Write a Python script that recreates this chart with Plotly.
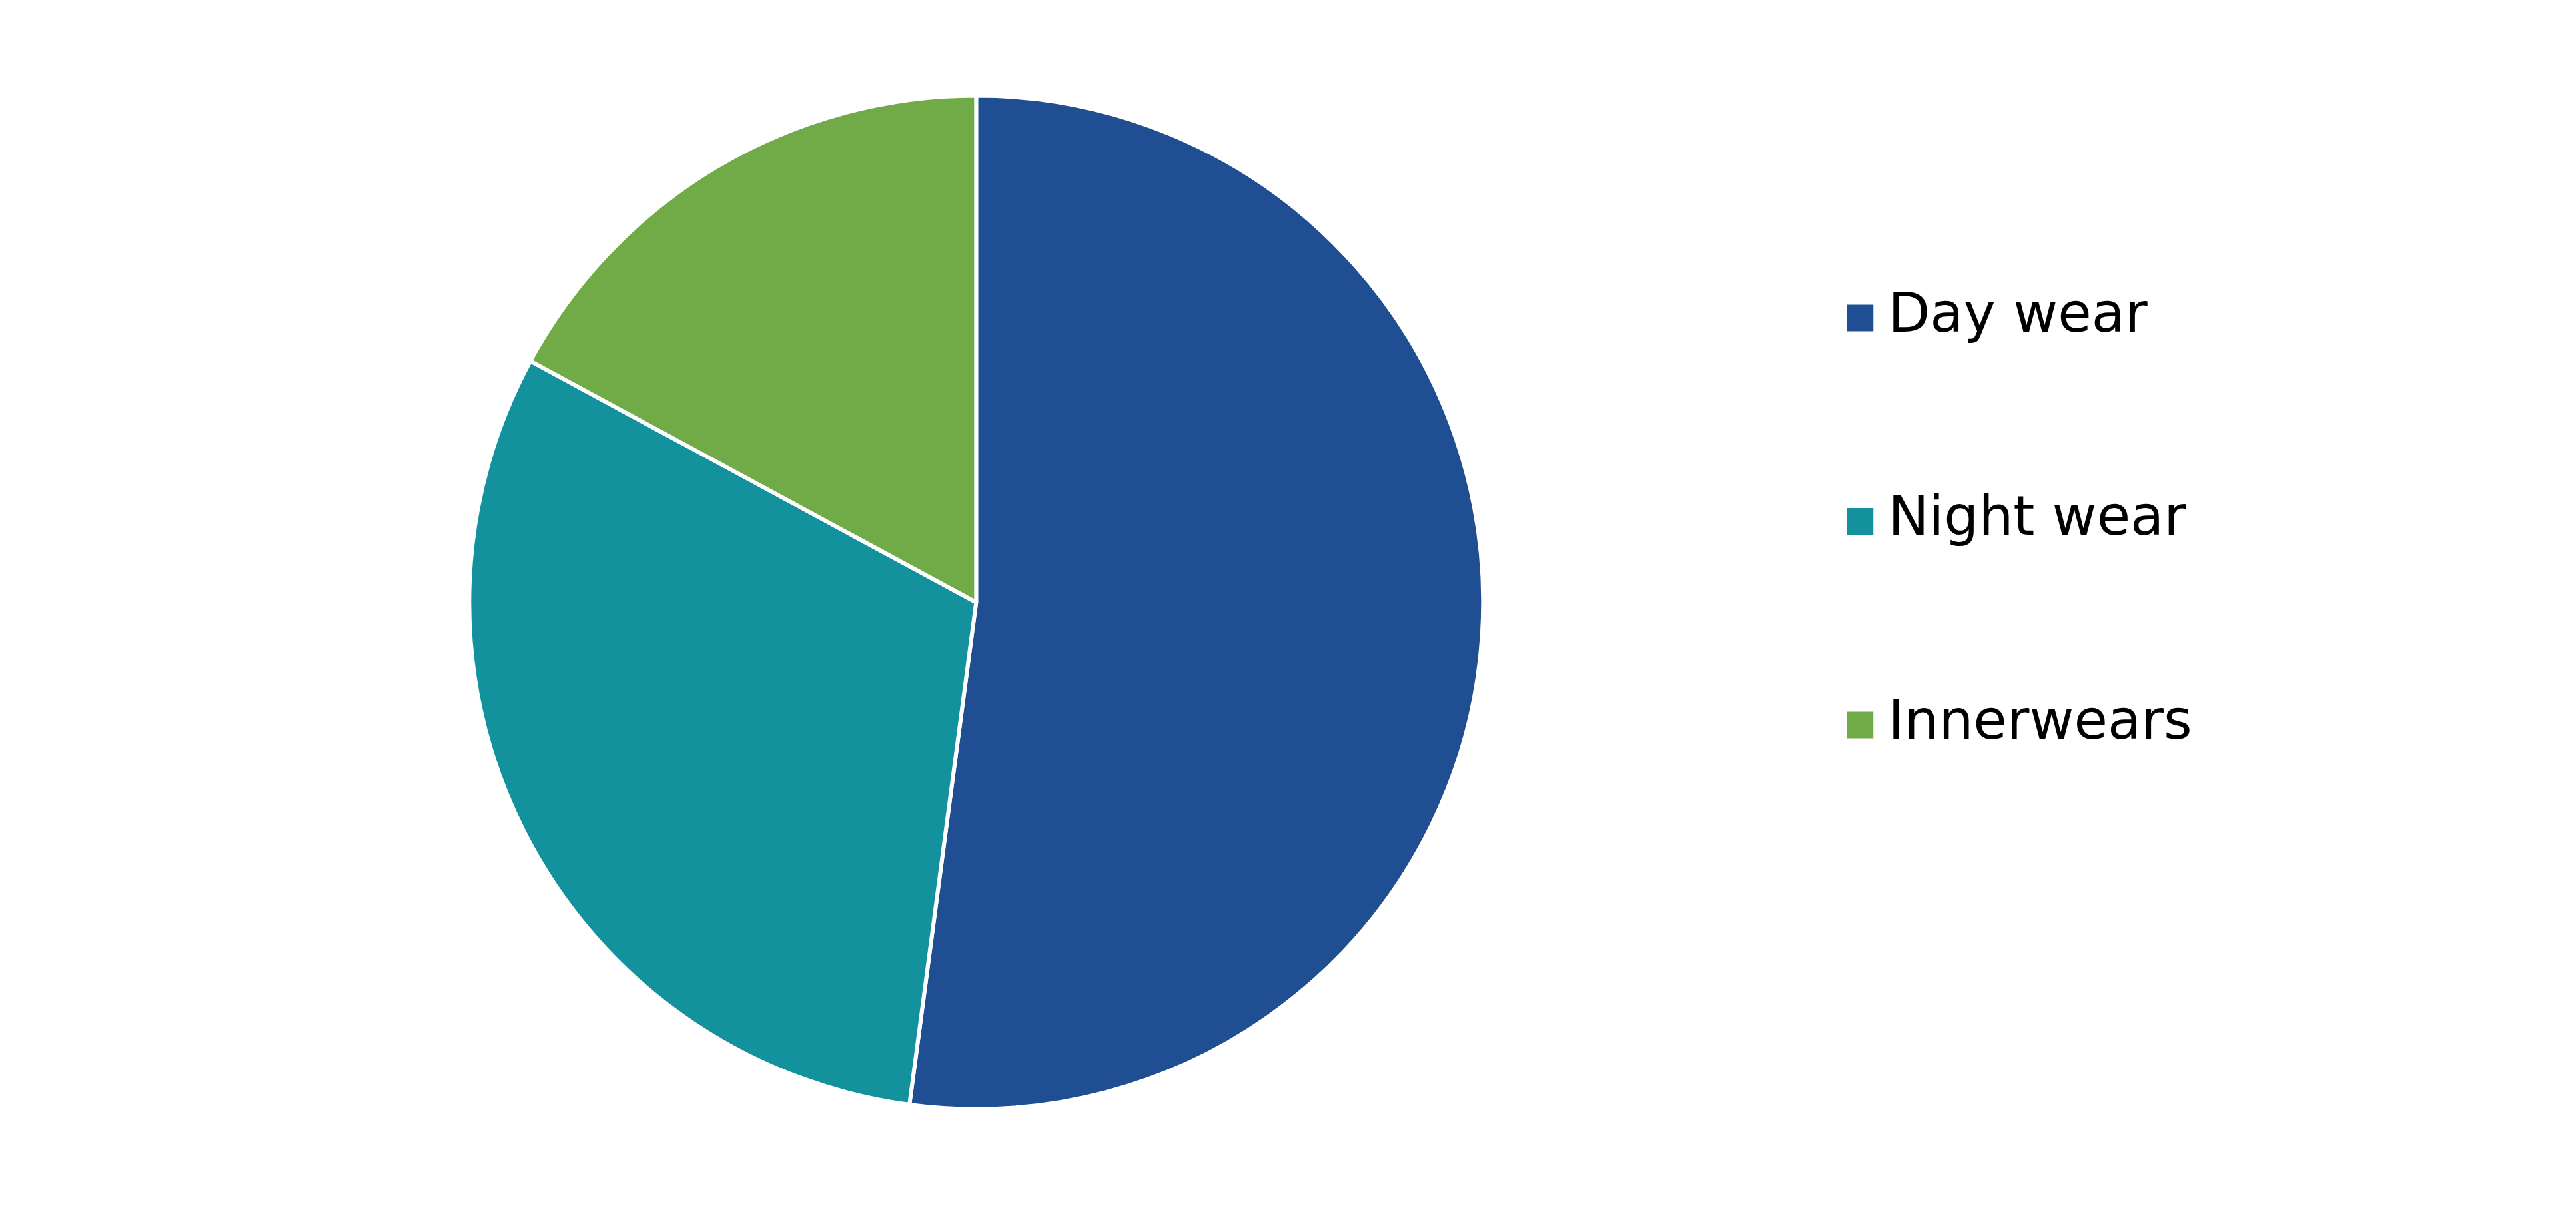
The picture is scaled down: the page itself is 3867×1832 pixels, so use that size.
import plotly.graph_objects as go

# slice data
labels = ["Day wear", "Night wear", "Innerwears"]
values = [52.1, 30.8, 17.1]
colors = ["#1F4F92", "#13929E", "#70AB48"]

fig = go.Figure()

# pie itself, starts at 12 o'clock and runs clockwise
fig.add_trace(go.Pie(
    labels=labels,
    values=values,
    sort=False,
    direction="clockwise",
    rotation=0,
    textinfo="none",
    hoverinfo="label+percent",
    marker=dict(colors=colors, line=dict(color="white", width=6)),
    domain=dict(x=[0.18006, 0.57365], y=[0.09525, 0.92604]),
    showlegend=False,
))

# legend drawn as marker + label columns so the squares and spacing match the original
fig.add_trace(go.Scatter(
    x=[0] * len(labels),
    y=labels,
    mode="markers",
    marker=dict(symbol="square", size=40, color=colors),
    hoverinfo="skip",
    showlegend=False,
    xaxis="x2",
    yaxis="y2",
    cliponaxis=False,
))
fig.add_trace(go.Scatter(
    x=[0.02715] * len(labels),
    y=labels,
    mode="text",
    text=labels,
    textposition="middle right",
    textfont=dict(family="DejaVu Sans", size=82, color="black"),
    hoverinfo="skip",
    showlegend=False,
    xaxis="x2",
    yaxis="y2",
    cliponaxis=False,
))

fig.update_layout(
    width=3867,
    height=1832,
    margin=dict(l=0, r=0, t=0, b=0),
    paper_bgcolor="white",
    plot_bgcolor="white",
    font=dict(family="DejaVu Sans"),
    xaxis2=dict(domain=[0.6, 1.0], range=[-0.3, 0.7], visible=False, fixedrange=True),
    yaxis2=dict(domain=[0.32687, 0.82717], type="category", categoryorder="array",
                categoryarray=labels, range=[2.5, -0.5], visible=False, fixedrange=True),
)

fig.write_html("out.html")
